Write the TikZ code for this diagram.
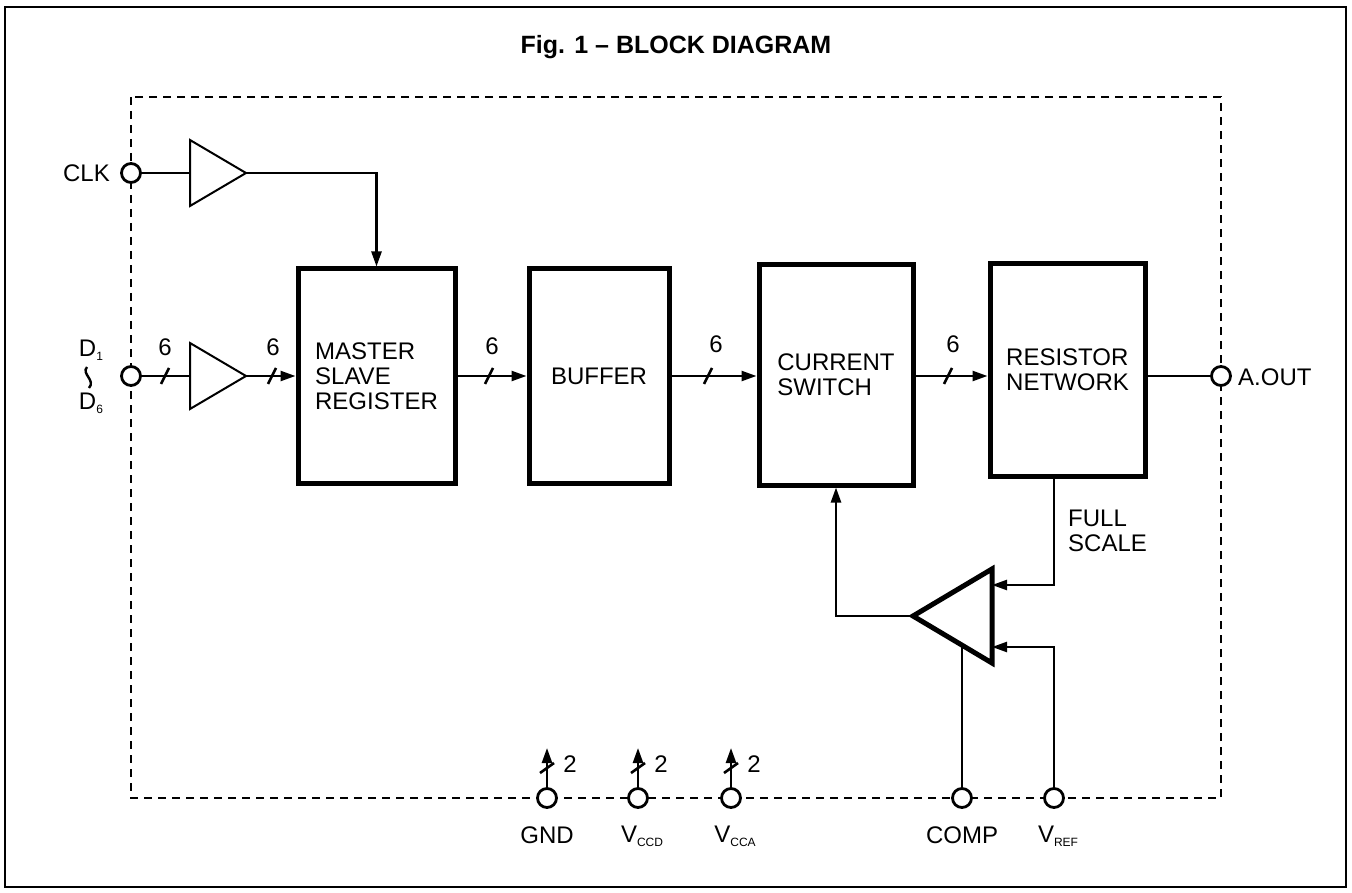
\documentclass[tikz,border=0pt]{standalone}
\usepackage{fontspec}
\setmainfont{Liberation Sans}
\usetikzlibrary{arrows.meta}
\newcommand\hslash[2]{\draw[tick] (#1-4,#2+8) -- (#1+4,#2-8);}
\newcommand\vslash[2]{\draw[tick] (#1-7,#2+5) -- (#1+7,#2-5);}
\newcommand\subtxt[1]{\raisebox{-4pt}{\fontsize{12}{12}\selectfont #1}}
\begin{document}
\begin{tikzpicture}[x=1pt,y=-1pt,
  lbl/.style={font=\fontsize{24}{25}\selectfont, inner sep=0pt},
  blk/.style={draw, line width=5pt, align=left, font=\fontsize{24}{25}\selectfont, inner sep=0pt},
  wire/.style={line width=2.4pt},
  arr/.style={wire, -{Triangle[length=15pt,width=10pt]}},
  pin/.style={circle, draw, line width=2.8pt, fill=white, minimum size=19pt, inner sep=0pt},
  tick/.style={line width=2.6pt},
  buf/.style={line width=2pt, line join=miter},
  amp/.style={line width=5pt, line join=miter},
  dashbox/.style={line width=2.6pt, dash pattern=on 8pt off 6pt},
  frame/.style={line width=2pt}
]
\useasboundingbox (0,0) rectangle (1352,893);
\draw[frame] (5,7) rectangle (1346,887);
\node[font=\bfseries\fontsize{25}{28}\selectfont] (title) at (676,47) {Fig. 1 -- BLOCK DIAGRAM};
\draw[dashbox] (131,97) rectangle (1221,798);

% blocks
\node[blk, minimum width=157pt, minimum height=214pt] (reg) at (376.5,376) {MASTER\\SLAVE\\REGISTER};
\node[blk, minimum width=140pt, minimum height=214pt] (buffer) at (599,376) {BUFFER};
\node[blk, minimum width=154pt, minimum height=220pt] (cs) at (836,375) {CURRENT\\SWITCH};
\node[blk, minimum width=155pt, minimum height=212pt] (rn) at (1067.5,370) {RESISTOR\\NETWORK};

% input buffers
\coordinate (clkin) at (190,173);
\coordinate (clkout) at (246,173);
\draw[buf] (190,140) -- (190,206) -- (clkout) -- cycle;
\coordinate (din) at (190,376);
\coordinate (dout) at (246,376);
\draw[buf] (190,343) -- (190,409) -- (dout) -- cycle;

% amplifier
\coordinate (amptip) at (913,616);
\coordinate (in1) at (992,585);
\coordinate (in2) at (992,647);
\coordinate (compin) at (962,645);
\draw[amp] (992,569) -- (992,663) -- (amptip) -- cycle;

% pins
\node[pin] (clk) at (131,173) {};
\node[pin] (d) at (131,376) {};
\node[pin] (aout) at (1221,376) {};
\node[pin] (gnd) at (547,798) {};
\node[pin] (vccd) at (638,798) {};
\node[pin] (vcca) at (731,798) {};
\node[pin] (comp) at (962,798) {};
\node[pin] (vref) at (1054,798) {};
\coordinate (gndtop) at (547,748);
\coordinate (vccdtop) at (638,748);
\coordinate (vccatop) at (731,748);

% pin labels
\node[lbl, anchor=east] (clklbl) at (110,173) {CLK};
\node[lbl] (d1) at (91,350) {D\subtxt{1}};
\draw[line width=2.4pt] (87,367) .. controls (81,374) and (96,380) .. (89,388);
\node[lbl] (d6) at (91,403) {D\subtxt{6}};
\node[lbl, anchor=west] (aoutlbl) at (1238,377) {A.OUT};
\node[lbl] (gndlbl) at (547,835) {GND};
\node[lbl] (vccdlbl) at (642,836) {V\subtxt{CCD}};
\node[lbl] (vccalbl) at (735,836) {V\subtxt{CCA}};
\node[lbl] (complbl) at (962,835) {COMP};
\node[lbl] (vreflbl) at (1058,836) {V\subtxt{REF}};
\node[lbl, align=left, anchor=west] (fslbl) at (1068,531) {FULL\\SCALE};

% connectors
\draw[wire] (clk) -- (clkin);
\draw[arr] (clkout) -| (reg.north);
\draw[wire] (d) -- (din);
\draw[arr] (dout) -- (reg.west);
\draw[arr] (reg.east) -- (buffer.west);
\draw[arr] (buffer.east) -- (cs.west |- buffer.east);
\draw[arr] (cs.east |- buffer.east) -- (rn.west |- buffer.east);
\draw[wire] (rn.east |- aout) -- (aout);
\draw[arr] (rn.south -| vref) |- (in1);
\draw[arr] (vref.north) |- (in2);
\draw[wire] (comp.north) -- (compin);
\draw[arr] (amptip) -| (cs.south);
\draw[arr] (gnd.north) -- (gndtop);
\draw[arr] (vccd.north) -- (vccdtop);
\draw[arr] (vcca.north) -- (vccatop);

% bus slashes and widths
\hslash{165}{376} \node[lbl] (n1) at (165,347) {6};
\hslash{272}{376} \node[lbl] (n2) at (273,347) {6};
\hslash{489}{376} \node[lbl] (n3) at (492,346) {6};
\hslash{708}{376} \node[lbl] (n4) at (716,344) {6};
\hslash{948}{376} \node[lbl] (n5) at (953,344) {6};
\vslash{547}{768} \node[lbl] (b1) at (570,764) {2};
\vslash{638}{768} \node[lbl] (b2) at (661,764) {2};
\vslash{731}{768} \node[lbl] (b3) at (754,764) {2};
\end{tikzpicture}
\end{document}
